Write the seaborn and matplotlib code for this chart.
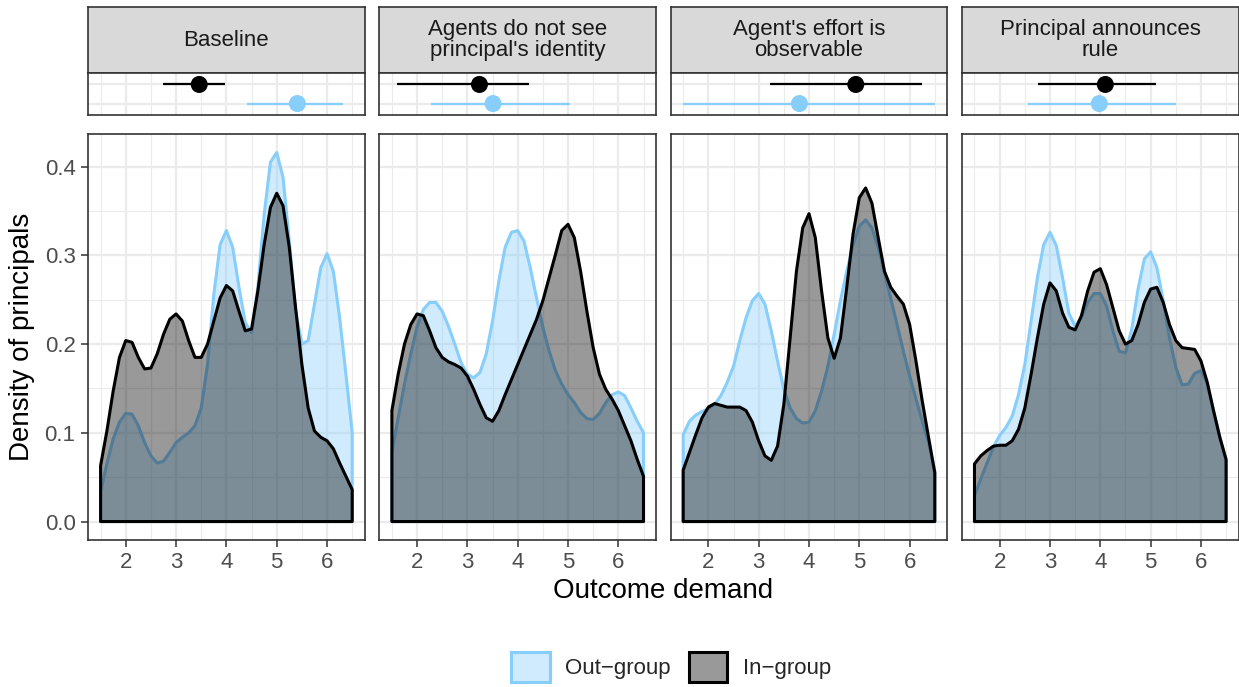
import numpy as np
import pandas as pd
import seaborn as sns
import matplotlib.pyplot as plt
from matplotlib.colors import to_rgba
from matplotlib.patches import Patch

# facet titles
conditions = ["Baseline",
              "Agents do not see\nprincipal's identity",
              "Agent's effort is\nobservable",
              "Principal announces\nrule"]
groups = ["Out\u2212group", "In\u2212group"]

demand = np.linspace(1.5, 6.5, 41)

out_baseline = [0.033, 0.065, 0.093, 0.112, 0.122, 0.121, 0.108, 0.089, 0.074, 0.066, 0.068,
                0.078, 0.089, 0.095, 0.100, 0.108, 0.128, 0.177, 0.256, 0.312, 0.328, 0.309,
                0.264, 0.224, 0.213, 0.264, 0.346, 0.405, 0.416, 0.388, 0.316, 0.237, 0.200,
                0.204, 0.245, 0.286, 0.302, 0.282, 0.230, 0.166, 0.100]
in_baseline = [0.063, 0.102, 0.147, 0.185, 0.204, 0.202, 0.185, 0.172, 0.173, 0.189, 0.211,
               0.228, 0.234, 0.226, 0.204, 0.185, 0.185, 0.200, 0.226, 0.252, 0.266, 0.260,
               0.237, 0.215, 0.217, 0.260, 0.312, 0.354, 0.370, 0.356, 0.309, 0.241, 0.177,
               0.128, 0.102, 0.095, 0.091, 0.082, 0.066, 0.051, 0.036]
out_hidden = [0.078, 0.117, 0.155, 0.189, 0.219, 0.239, 0.247, 0.247, 0.237, 0.220, 0.200,
              0.179, 0.166, 0.162, 0.168, 0.189, 0.226, 0.271, 0.309, 0.326, 0.328, 0.316,
              0.286, 0.252, 0.219, 0.192, 0.170, 0.155, 0.143, 0.134, 0.123, 0.116, 0.115,
              0.122, 0.134, 0.143, 0.146, 0.142, 0.128, 0.113, 0.100]
in_hidden = [0.125, 0.166, 0.200, 0.222, 0.234, 0.232, 0.215, 0.196, 0.185, 0.180, 0.177,
             0.173, 0.164, 0.149, 0.132, 0.117, 0.113, 0.125, 0.143, 0.160, 0.177, 0.194,
             0.211, 0.228, 0.249, 0.275, 0.301, 0.328, 0.335, 0.320, 0.282, 0.237, 0.196,
             0.166, 0.149, 0.138, 0.125, 0.108, 0.091, 0.070, 0.051]
out_effort = [0.098, 0.113, 0.120, 0.124, 0.127, 0.132, 0.142, 0.157, 0.175, 0.204, 0.230,
              0.249, 0.257, 0.245, 0.215, 0.181, 0.149, 0.128, 0.116, 0.111, 0.112, 0.125,
              0.147, 0.175, 0.211, 0.249, 0.282, 0.312, 0.333, 0.340, 0.331, 0.309, 0.281,
              0.251, 0.222, 0.192, 0.164, 0.138, 0.113, 0.089, 0.057]
in_effort = [0.058, 0.078, 0.098, 0.117, 0.129, 0.133, 0.131, 0.129, 0.129, 0.129, 0.125,
             0.112, 0.091, 0.074, 0.069, 0.085, 0.132, 0.207, 0.282, 0.331, 0.347, 0.320,
             0.260, 0.207, 0.184, 0.207, 0.264, 0.324, 0.365, 0.376, 0.359, 0.320, 0.282,
             0.264, 0.254, 0.245, 0.222, 0.181, 0.136, 0.095, 0.055]
out_rule = [0.029, 0.048, 0.066, 0.084, 0.097, 0.106, 0.119, 0.143, 0.177, 0.226, 0.275,
            0.312, 0.326, 0.311, 0.275, 0.235, 0.220, 0.230, 0.247, 0.257, 0.257, 0.243,
            0.215, 0.192, 0.190, 0.217, 0.262, 0.296, 0.304, 0.286, 0.249, 0.207, 0.174,
            0.154, 0.155, 0.167, 0.170, 0.155, 0.125, 0.095, 0.068]
in_rule = [0.065, 0.074, 0.080, 0.085, 0.086, 0.086, 0.091, 0.104, 0.128, 0.166, 0.207,
           0.245, 0.269, 0.260, 0.235, 0.219, 0.216, 0.232, 0.260, 0.281, 0.285, 0.267,
           0.241, 0.215, 0.200, 0.204, 0.222, 0.247, 0.262, 0.264, 0.247, 0.222, 0.204,
           0.196, 0.195, 0.194, 0.181, 0.157, 0.125, 0.095, 0.070]

out_density = [out_baseline, out_hidden, out_effort, out_rule]
in_density = [in_baseline, in_hidden, in_effort, in_rule]

# mean demand with interval, per condition
in_mean = [3.46, 3.24, 4.93, 4.10]
in_lo = [2.75, 1.61, 3.23, 2.77]
in_hi = [3.97, 4.22, 6.25, 5.10]
out_mean = [5.41, 3.51, 3.81, 3.98]
out_lo = [4.41, 2.27, 1.50, 2.57]
out_hi = [6.31, 5.04, 6.51, 5.51]

BLUE = "#87CEFA"
W, H = 1239, 687
FONT = ["Liberation Sans", "DejaVu Sans"]

sns.set_theme(style="white")
plt.rcParams["font.family"] = FONT

fig = plt.figure(figsize=(W / 100, H / 100), dpi=100)


def rect(left, top, width, height):
    return [left / W, 1 - (top + height) / H, width / W, height / H]


def style_box(ax):
    for s in ax.spines.values():
        s.set_visible(True)
        s.set_color("#333333")
        s.set_linewidth(1.2)


def add_grid(ax, yticks, yminor):
    ax.set_xticks([2, 3, 4, 5, 6])
    ax.set_xticks([1.5, 2.5, 3.5, 4.5, 5.5, 6.5], minor=True)
    ax.set_yticks(yticks)
    ax.set_yticks(yminor, minor=True)
    ax.grid(True, which="major", color="#EBEBEB", linewidth=1.6)
    ax.grid(True, which="minor", color="#EBEBEB", linewidth=0.8)
    ax.set_axisbelow(True)


xlim = (1.25, 6.75)
ymax = max(max(max(d) for d in out_density), max(max(d) for d in in_density))
ylim = (-0.05 * ymax, 1.05 * ymax)

lefts = [88, 379.3, 670.6, 961.9]
pw = 276.8

for i, cond in enumerate(conditions):
    left = lefts[i]

    # strip
    sax = fig.add_axes(rect(left, 7, pw, 66))
    sax.set_facecolor("#D9D9D9")
    sax.set_xticks([])
    sax.set_yticks([])
    style_box(sax)
    sax.text(0.5, 0.5, cond, ha="center", va="center", fontsize=16,
             color="#1A1A1A", linespacing=0.95, transform=sax.transAxes)

    # point ranges
    pax = fig.add_axes(rect(left, 73, pw, 42))
    pax.set_facecolor("white")
    add_grid(pax, [1, 2], [])
    pts = pd.DataFrame({"group": groups,
                        "mean": [out_mean[i], in_mean[i]],
                        "lo": [out_lo[i], in_lo[i]],
                        "hi": [out_hi[i], in_hi[i]],
                        "pos": [1, 2]})
    pax.hlines(pts["pos"], pts["lo"], pts["hi"], colors=[BLUE, "black"], linewidth=1.6)
    sns.scatterplot(data=pts, x="mean", y="pos", hue="group",
                    palette=[BLUE, "black"], s=150, linewidth=0, legend=False, ax=pax, zorder=3)
    pax.set_xlim(xlim)
    pax.set_ylim(0.4, 2.6)
    pax.tick_params(which="both", length=0, labelbottom=False, labelleft=False)
    pax.set_xlabel("")
    pax.set_ylabel("")
    style_box(pax)

    # densities
    dax = fig.add_axes(rect(left, 134, pw, 406))
    dax.set_facecolor("white")
    add_grid(dax, [0, 0.1, 0.2, 0.3, 0.4], [0.05, 0.15, 0.25, 0.35])
    xs = np.r_[demand[0], demand, demand[-1]]
    dax.fill(xs, np.r_[0, out_density[i], 0], facecolor=to_rgba(BLUE, 0.4),
             edgecolor=BLUE, linewidth=2.2, joinstyle="round")
    dax.fill(xs, np.r_[0, in_density[i], 0], facecolor=to_rgba("black", 0.4),
             edgecolor="black", linewidth=2.2, joinstyle="round")
    dax.set_xlim(xlim)
    dax.set_ylim(ylim)
    style_box(dax)
    dax.tick_params(axis="x", which="major", length=5, width=1.1, color="#333333",
                    labelsize=16, labelcolor="#4D4D4D", pad=4, bottom=True)
    dax.tick_params(axis="x", which="minor", length=0)
    if i == 0:
        dax.set_yticklabels(["0.0", "0.1", "0.2", "0.3", "0.4"])
        dax.tick_params(axis="y", which="major", length=5, width=1.1, color="#333333",
                        labelsize=16, labelcolor="#4D4D4D", pad=4, left=True)
    else:
        dax.tick_params(axis="y", which="major", length=0, labelleft=False)
    dax.tick_params(axis="y", which="minor", length=0)

fig.text(663 / W, 1 - 591 / H, "Outcome demand", ha="center", va="center",
         fontsize=20, color="black")
fig.text(22 / W, 1 - 337 / H, "Density of principals", ha="center", va="center",
         rotation=90, fontsize=20, color="black")

handles = [Patch(facecolor=to_rgba(BLUE, 0.4), edgecolor=BLUE, linewidth=2.2),
           Patch(facecolor=to_rgba("black", 0.4), edgecolor="black", linewidth=2.2)]
fig.legend(handles, groups, loc="center", bbox_to_anchor=(671 / W, 1 - 667 / H),
           ncol=2, frameon=False, fontsize=16, handlelength=1.75, handleheight=1.7,
           handletextpad=0.7, columnspacing=0.8)

fig.savefig("out.png", dpi=100)
